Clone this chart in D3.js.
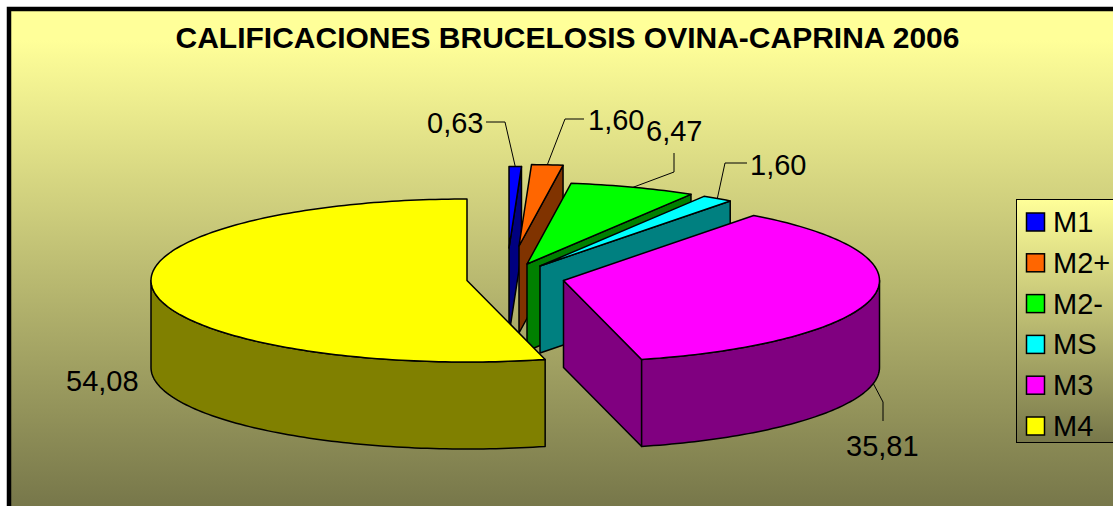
<!DOCTYPE html>
<html>
<head>
<meta charset="utf-8">
<title>Calificaciones brucelosis ovina-caprina 2006</title>
<script src="https://cdn.jsdelivr.net/npm/d3@7"></script>
<style>
  html, body { margin: 0; padding: 0; background: #fff; overflow: hidden; }
  svg { display: block; }
  text { font-family: "Liberation Sans", Arial, sans-serif; fill: #000; }
</style>
</head>
<body>
<div id="chart"></div>
<script>
// data
const categories = ["M1", "M2+", "M2-", "MS", "M3", "M4"];
const values = [0.63, 1.60, 6.47, 1.60, 35.81, 54.08];
const valueLabels = ["0,63", "1,60", "6,47", "1,60", "35,81", "54,08"];
const titleText = "CALIFICACIONES BRUCELOSIS OVINA-CAPRINA 2006";

const topColors = ["#0000ff", "#ff6600", "#00ff00", "#00ffff", "#ff00ff", "#ffff00"];
const wallColors = ["#000080", "#803300", "#008000", "#008080", "#800080", "#808000"];

const width = 1113, height = 506;

// pie layout: an ellipse with a fixed depth, each slice pulled out of the centre
const pieCenter = { x: 515, y: 280 };
const rx = 316, ry = 81.5, depth = 87;
const explodeX = [-6, 4, 12, 25, 48.5, -48];
const explodeY = [-32, -34, -16, -14, 0.5, 0.5];

// label anchor points and leader elbows, null where Excel drew no leader
const labelPos = [[427, 133], [588, 130], [646, 141], [750, 175], [846, 456], [66, 391]];
const leaders = [
  [[486, 122], [505, 122]],
  [[584, 119], [565, 119]],
  [[674, 153], [674, 172]],
  [[747, 163], [725, 163]],
  [[883, 421], [883, 402]],
  null
];

const svg = d3.select("#chart").append("svg")
  .attr("width", width)
  .attr("height", height);

const defs = svg.append("defs");

function addGradient(id, y1, y2) {
  const g = defs.append("linearGradient")
    .attr("id", id)
    .attr("gradientUnits", "userSpaceOnUse")
    .attr("x1", 0).attr("x2", 0)
    .attr("y1", y1).attr("y2", y2);
  g.append("stop").attr("offset", "0%").attr("stop-color", "#ffff99");
  g.append("stop").attr("offset", "100%").attr("stop-color", "#77774a");
}
addGradient("bgGrad", 40, 506);
addGradient("legendGrad", 199, 443);

// chart area, runs past the right and bottom edges of the window
svg.append("rect")
  .attr("x", 9)
  .attr("y", 9)
  .attr("width", width + 20)
  .attr("height", height + 20)
  .attr("fill", "url(#bgGrad)")
  .attr("stroke", "#000")
  .attr("stroke-width", 4.5);

svg.append("text")
  .attr("x", 567.5)
  .attr("y", 47.5)
  .attr("text-anchor", "middle")
  .attr("font-size", 30)
  .attr("font-weight", "bold")
  .text(titleText);

// unit circle -> pixels, relative to the slice's own centre
const xScale = d3.scaleLinear().domain([-1, 1]).range([-rx, rx]);
const yScale = d3.scaleLinear().domain([-1, 1]).range([-ry, ry]);

const pie = d3.pie().sort(null).value(d => d)(values);

const px = a => xScale(Math.sin(a));
const py = a => yScale(-Math.cos(a));

function arcPoints(a0, a1) {
  const n = Math.max(2, Math.ceil((a1 - a0) / 0.02));
  return d3.range(n + 1).map(i => {
    const a = a0 + (a1 - a0) * i / n;
    return [px(a), py(a)];
  });
}

const closed = d3.line().curve(d3.curveLinearClosed);
const down = p => [p[0], p[1] + depth];

function wall(points) {
  return closed(points.concat(points.slice().reverse().map(down)));
}

const plot = svg.append("g")
  .attr("transform", `translate(${pieCenter.x},${pieCenter.y})`);

pie.forEach((s, i) => {
  const g = plot.append("g")
    .attr("transform", `translate(${explodeX[i]},${explodeY[i]})`)
    .attr("stroke", "#000")
    .attr("stroke-width", 1.5)
    .attr("stroke-linejoin", "round");

  // cut faces turned to the viewer
  if (s.startAngle >= Math.PI) {
    g.append("path").attr("fill", wallColors[i])
      .attr("d", wall([[0, 0], [px(s.startAngle), py(s.startAngle)]]));
  }
  if (s.endAngle < Math.PI) {
    g.append("path").attr("fill", wallColors[i])
      .attr("d", wall([[0, 0], [px(s.endAngle), py(s.endAngle)]]));
  }

  // outer wall, only the front half of the ellipse shows
  const a0 = Math.max(s.startAngle, Math.PI / 2);
  const a1 = Math.min(s.endAngle, Math.PI * 1.5);
  if (a1 > a0) {
    g.append("path").attr("fill", wallColors[i])
      .attr("d", wall(arcPoints(a0, a1)));
  }

  g.append("path").attr("fill", topColors[i])
    .attr("d", closed([[0, 0]].concat(arcPoints(s.startAngle, s.endAngle))));
});

// leader lines end on the slice edge at its middle angle
const leaderLine = d3.line();
pie.forEach((s, i) => {
  if (!leaders[i]) return;
  const mid = (s.startAngle + s.endAngle) / 2;
  const front = Math.cos(mid) < 0 ? depth : 0;
  const anchor = [
    pieCenter.x + explodeX[i] + px(mid),
    pieCenter.y + explodeY[i] + py(mid) + front
  ];
  svg.append("path")
    .attr("fill", "none")
    .attr("stroke", "#000")
    .attr("stroke-width", 1)
    .attr("d", leaderLine(leaders[i].concat([anchor])));
});

valueLabels.forEach((t, i) => {
  svg.append("text")
    .attr("x", labelPos[i][0])
    .attr("y", labelPos[i][1])
    .attr("font-size", 29)
    .text(t);
});

// legend
const legend = svg.append("g");
legend.append("rect")
  .attr("x", 1016.5)
  .attr("y", 199.5)
  .attr("width", 130)
  .attr("height", 243)
  .attr("fill", "url(#legendGrad)")
  .attr("stroke", "#000")
  .attr("stroke-width", 1);

const legendY = d3.scalePoint().domain(categories).range([222, 426]);

categories.forEach((c, i) => {
  legend.append("rect")
    .attr("x", 1026.5)
    .attr("y", legendY(c) - 9)
    .attr("width", 18)
    .attr("height", 18)
    .attr("fill", topColors[i])
    .attr("stroke", "#000")
    .attr("stroke-width", 1.5);
  legend.append("text")
    .attr("x", 1053)
    .attr("y", legendY(c) + 10)
    .attr("font-size", 29)
    .text(c);
});
</script>
</body>
</html>
